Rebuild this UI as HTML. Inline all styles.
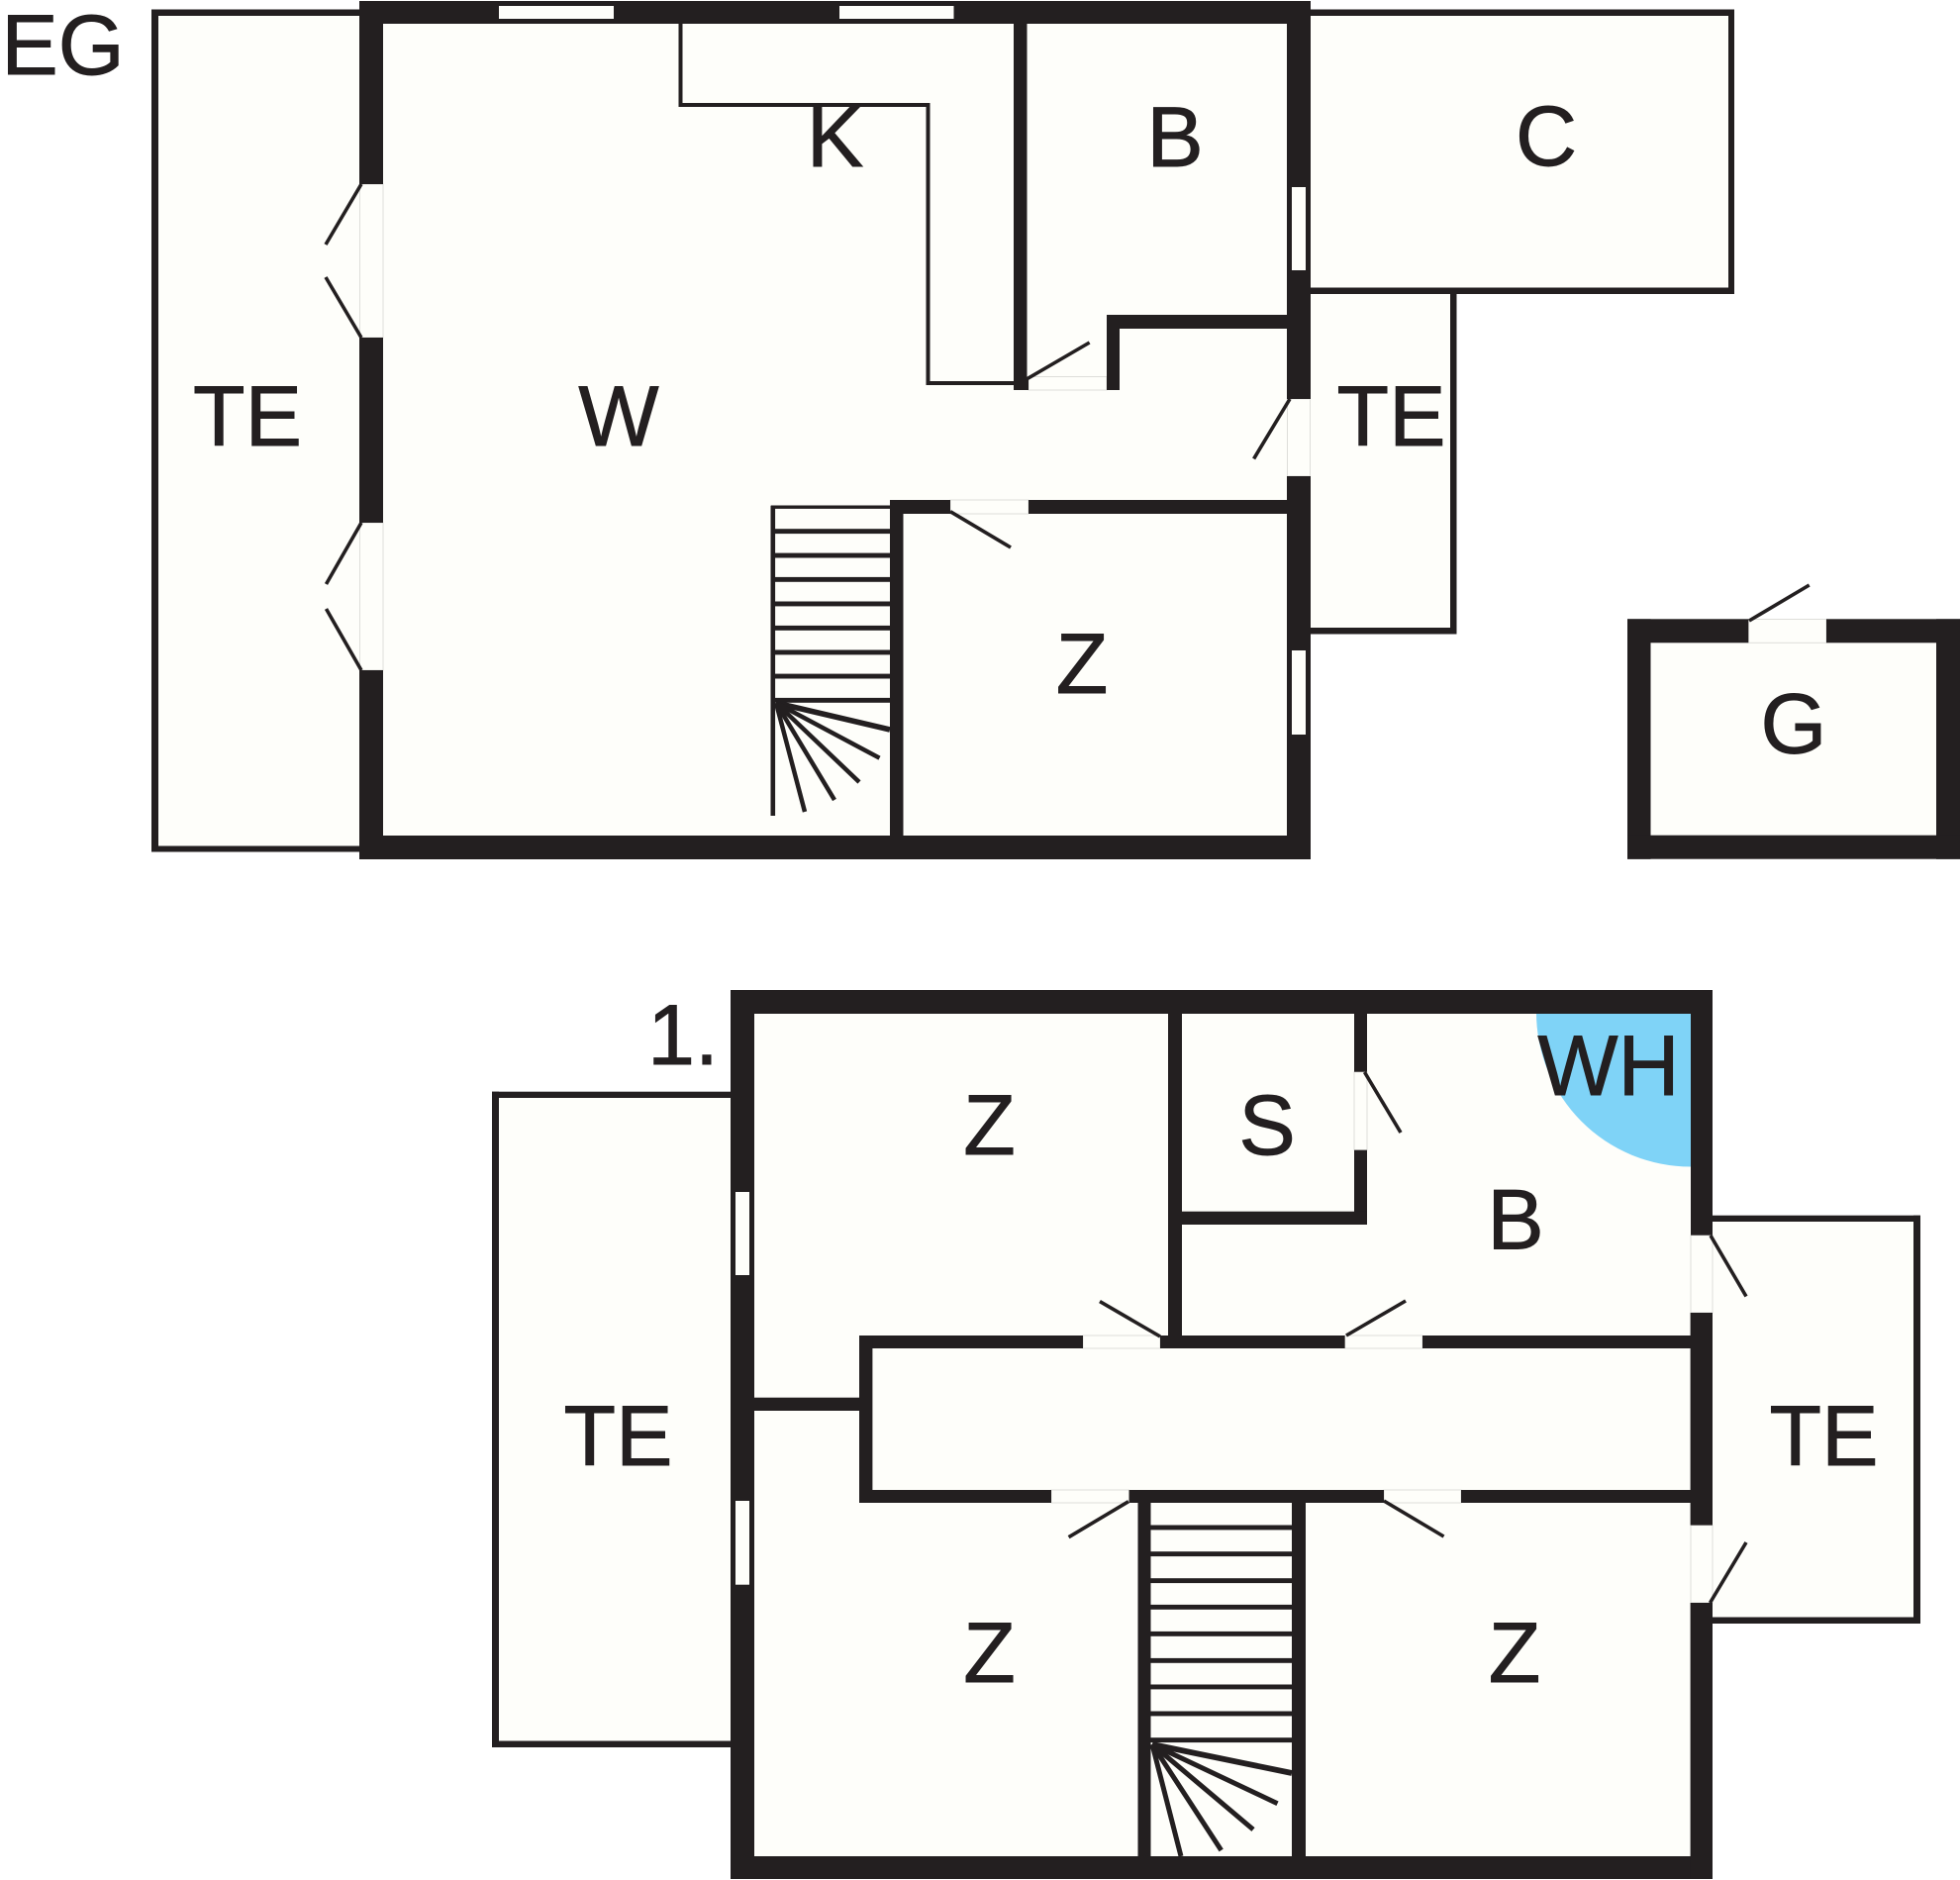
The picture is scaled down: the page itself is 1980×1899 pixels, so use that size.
<!DOCTYPE html>
<html>
<head>
<meta charset="utf-8">
<style>
html,body{margin:0;padding:0;background:#fff;width:1980px;height:1899px;overflow:hidden}
svg{display:block}
text{font-family:"Liberation Sans",Arial,sans-serif;font-size:86px;fill:#231f20;stroke:#231f20;stroke-width:.9px;text-anchor:middle}
</style>
</head>
<body>
<svg width="1980" height="1899" viewBox="0 0 1980 1899" xmlns="http://www.w3.org/2000/svg">
<rect width="1980" height="1899" fill="#fff"/>

<!-- cream room fills -->
<g fill="#fefefa">
<rect x="153" y="10" width="215" height="850"/>
<rect x="365" y="2" width="958" height="865"/>
<rect x="1320" y="10" width="432" height="286"/>
<rect x="1320" y="290" width="150" height="350"/>
<rect x="1644" y="626" width="336" height="241"/>
<rect x="497" y="1103" width="245" height="662"/>
<rect x="739" y="1001" width="990" height="897"/>
<rect x="1725" y="1228" width="214" height="411"/>
</g>

<!-- blue WH quarter circle -->
<path d="M1552 1022 H1708 V1178.5 A156 156 0 0 1 1552 1022 Z" fill="#7fd3f7"/>

<!-- faint door-opening edges -->
<g fill="none" stroke="#dededa" stroke-width="1">
<rect x="363.5" y="186" width="23.5" height="155"/>
<rect x="363.5" y="528" width="23.5" height="149"/>
<rect x="1039" y="380.5" width="79" height="13.5"/>
<rect x="960" y="505" width="79" height="14"/>
<rect x="1300.5" y="403" width="23" height="78"/>
<rect x="1766.3" y="625.5" width="78.7" height="23.8"/>
<rect x="1368" y="1082.7" width="13" height="79"/>
<rect x="1094" y="1349" width="78" height="13"/>
<rect x="1358.6" y="1349" width="78.4" height="13"/>
<rect x="1062" y="1505" width="78.6" height="13"/>
<rect x="1398" y="1505" width="78" height="13"/>
<rect x="1708" y="1247.7" width="22" height="78.3"/>
<rect x="1708" y="1540.6" width="22" height="78.4"/>
</g>

<g fill="#231f20">
<!-- EG terrace left -->
<rect x="153" y="9.5" width="215" height="6.5"/>
<rect x="153" y="9.5" width="7" height="851"/>
<rect x="153" y="854.5" width="215" height="6"/>

<!-- EG outer walls -->
<rect x="363" y="1" width="961" height="23"/>
<rect x="363" y="1" width="24" height="185"/>
<rect x="363" y="341" width="24" height="187"/>
<rect x="363" y="677" width="24" height="191"/>
<rect x="363" y="844" width="961" height="24"/>
<rect x="1300" y="1" width="24" height="402"/>
<rect x="1300" y="481" width="24" height="387"/>

<!-- EG interior walls -->
<rect x="1024" y="24" width="13.5" height="370"/>
<rect x="1030" y="382" width="9" height="12"/>
<rect x="1118" y="318" width="13" height="76"/>
<rect x="1118" y="318" width="182" height="14"/>
<rect x="899" y="505" width="61" height="14"/>
<rect x="1039" y="505" width="261" height="14"/>
<rect x="899" y="505" width="13.5" height="339"/>

<!-- K counter -->
<rect x="685.5" y="24" width="4" height="84"/>
<rect x="685.5" y="104" width="253.5" height="4"/>
<rect x="935.5" y="104" width="4" height="285"/>
<rect x="935.5" y="385" width="88.5" height="4"/>

<!-- C store -->
<rect x="1324" y="9.5" width="428" height="6.5"/>
<rect x="1746" y="9.5" width="6" height="287"/>
<rect x="1320" y="290.5" width="432" height="6.5"/>
<!-- TE right -->
<rect x="1465" y="293" width="6.5" height="347.5"/>
<rect x="1324" y="634" width="147.5" height="6.5"/>

<!-- Garage -->
<rect x="1644" y="625.3" width="122.3" height="24"/>
<rect x="1845" y="625.3" width="135" height="24"/>
<rect x="1644" y="625.3" width="23.5" height="242.5"/>
<rect x="1956" y="625.3" width="24" height="242.5"/>
<rect x="1644" y="843.7" width="336" height="24"/>

<!-- EG stair treads -->
<rect x="778.5" y="510.7" width="4.6" height="313.3"/>
<rect x="779" y="510.5" width="120" height="3.4"/>
<rect x="781" y="534.2" width="118" height="4.9"/>
<rect x="781" y="558.6" width="118" height="4.9"/>
<rect x="781" y="582.9" width="118" height="4.9"/>
<rect x="781" y="607.5" width="118" height="4.9"/>
<rect x="781" y="631.9" width="118" height="4.9"/>
<rect x="781" y="656.5" width="118" height="4.9"/>
<rect x="781" y="680.6" width="118" height="4.9"/>
<rect x="781" y="704.9" width="118" height="4.9"/>

<!-- 1st floor terrace left -->
<rect x="497" y="1102.7" width="245" height="6.3"/>
<rect x="497" y="1102.7" width="7" height="662.3"/>
<rect x="497" y="1758.5" width="245" height="6.5"/>

<!-- 1st floor terrace right -->
<rect x="1728" y="1227.7" width="212" height="6.3"/>
<rect x="1933" y="1227.7" width="7" height="412"/>
<rect x="1728" y="1633.5" width="212" height="6.5"/>

<!-- 1st floor outer walls -->
<rect x="738" y="1000" width="992" height="24"/>
<rect x="738" y="1000" width="24" height="898"/>
<rect x="738" y="1875" width="992" height="23"/>
<rect x="1708" y="1000" width="22" height="247.7"/>
<rect x="1707.6" y="1326" width="22.4" height="214.6"/>
<rect x="1707.6" y="1619" width="22.4" height="279"/>

<!-- 1st floor interior walls -->
<rect x="1180" y="1024" width="14" height="332"/>
<rect x="1368" y="1024" width="13" height="58.7"/>
<rect x="1368" y="1161.7" width="13" height="75.3"/>
<rect x="1194" y="1223.7" width="187" height="13.3"/>
<rect x="868" y="1349" width="226" height="13"/>
<rect x="1172" y="1349" width="186.6" height="13"/>
<rect x="1437" y="1349" width="271" height="13"/>
<rect x="868" y="1349" width="13.4" height="169"/>
<rect x="762" y="1411.7" width="106" height="13.3"/>
<rect x="868" y="1505" width="194" height="13"/>
<rect x="1140.6" y="1505" width="257.4" height="13"/>
<rect x="1476" y="1505" width="232" height="13"/>
<rect x="1149.5" y="1518" width="13" height="357"/>
<rect x="1305" y="1518" width="14" height="357"/>

<!-- 1st floor stair treads -->
<rect x="1162" y="1540.5" width="143" height="4.9"/>
<rect x="1162" y="1567.2" width="143" height="4.9"/>
<rect x="1162" y="1594.2" width="143" height="4.9"/>
<rect x="1162" y="1620.9" width="143" height="4.9"/>
<rect x="1162" y="1647.9" width="143" height="4.9"/>
<rect x="1162" y="1674.9" width="143" height="4.9"/>
<rect x="1162" y="1701.5" width="143" height="4.9"/>
<rect x="1162" y="1728.5" width="143" height="4.9"/>
<rect x="1162" y="1755.2" width="143" height="4.9"/>
</g>

<!-- windows -->
<g fill="#fefefa">
<rect x="504" y="6" width="116" height="13"/>
<rect x="848" y="6" width="115.5" height="13"/>
<rect x="1305" y="189" width="14" height="84"/>
<rect x="1305" y="657" width="14" height="85"/>
<rect x="743" y="1204" width="14" height="84"/>
<rect x="743" y="1516" width="14" height="84.7"/>
</g>

<!-- door swings -->
<g stroke="#231f20" stroke-width="3.6" fill="none">
<line x1="365" y1="186" x2="329" y2="247"/>
<line x1="329" y1="280" x2="365" y2="341"/>
<line x1="365" y1="528" x2="329.5" y2="590"/>
<line x1="329.5" y1="615" x2="365" y2="677"/>
<line x1="1037" y1="383" x2="1100.6" y2="346"/>
<line x1="1303" y1="403" x2="1266.6" y2="463.4"/>
<line x1="960" y1="516.7" x2="1021" y2="553"/>
<line x1="1767" y1="627" x2="1827.7" y2="591"/>
<line x1="1378.5" y1="1083" x2="1415" y2="1144"/>
<line x1="1360" y1="1349" x2="1420" y2="1314"/>
<line x1="1172" y1="1350" x2="1111" y2="1314.6"/>
<line x1="1728" y1="1248" x2="1764" y2="1309.5"/>
<line x1="1727.5" y1="1619" x2="1764" y2="1558"/>
<line x1="1140" y1="1516.7" x2="1079.6" y2="1552.7"/>
<line x1="1398" y1="1516" x2="1458.5" y2="1552"/>
</g>

<!-- stair fans -->
<g stroke="#231f20" fill="none">
<line x1="784" y1="710" x2="899" y2="737" stroke-width="5.6"/>
<line x1="784" y1="710" x2="888.5" y2="765.7" stroke-width="4.5"/>
<line x1="784" y1="710" x2="868" y2="790" stroke-width="4.5"/>
<line x1="784" y1="710" x2="843" y2="808" stroke-width="4.5"/>
<line x1="784" y1="710" x2="813" y2="820" stroke-width="4.5"/>
<line x1="1164" y1="1762" x2="1305" y2="1791" stroke-width="5.8"/>
<line x1="1164" y1="1762" x2="1290.5" y2="1821.7" stroke-width="5"/>
<line x1="1164" y1="1762" x2="1266" y2="1848" stroke-width="5"/>
<line x1="1164" y1="1762" x2="1233.7" y2="1869" stroke-width="5"/>
<line x1="1164" y1="1762" x2="1193" y2="1875" stroke-width="5"/>
</g>

<!-- labels -->
<text x="63.5" y="75">EG</text>
<text x="843.5" y="168">K</text>
<text x="1187" y="168">B</text>
<text x="1562" y="167">C</text>
<text x="250" y="450">TE</text>
<text x="625" y="450">W</text>
<text x="1405.5" y="450">TE</text>
<text x="1093" y="700">Z</text>
<text x="1812" y="760.5">G</text>
<text x="690" y="1075">1.</text>
<text x="999.5" y="1166">Z</text>
<text x="1280" y="1166">S</text>
<text x="1625" y="1106">WH</text>
<text x="1531" y="1261.7">B</text>
<text x="624.5" y="1480">TE</text>
<text x="1842.5" y="1480">TE</text>
<text x="999.5" y="1699">Z</text>
<text x="1530" y="1699">Z</text>
</svg>
</body>
</html>
